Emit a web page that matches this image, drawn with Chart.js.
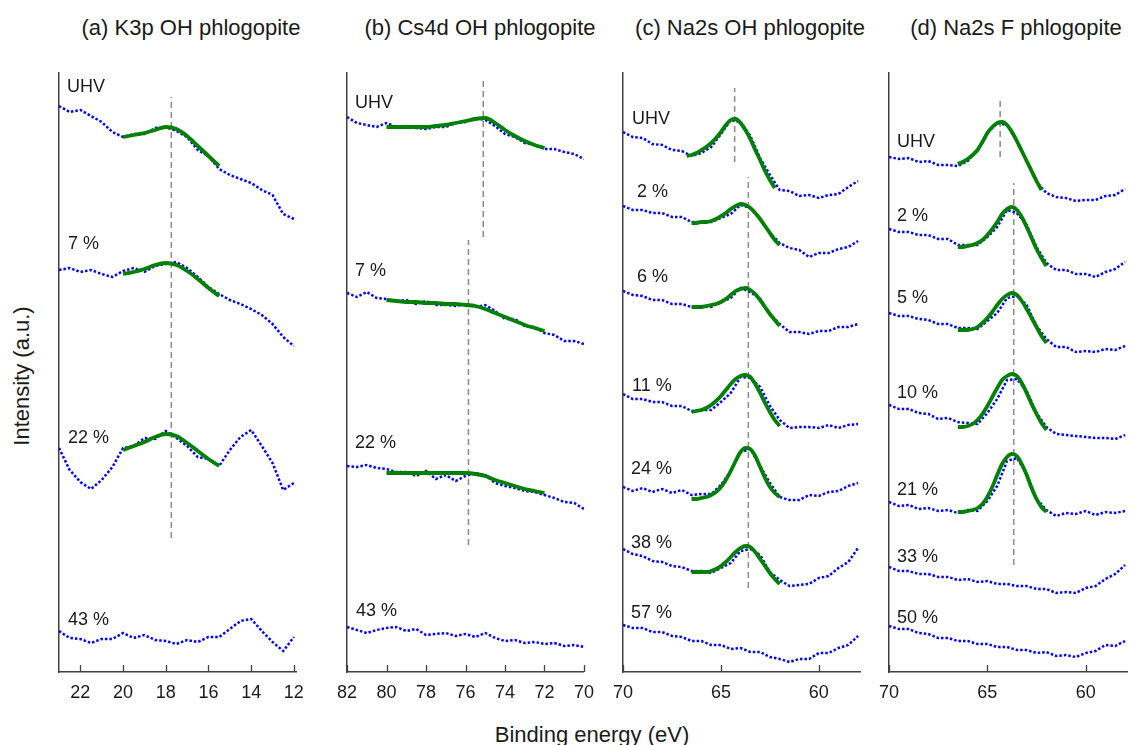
<!DOCTYPE html>
<html lang="en">
<head>
<meta charset="UTF-8">
<title>XPS spectra of phlogopite</title>
<script src="https://cdn.jsdelivr.net/npm/chart.js"></script>
<style>
  body { margin: 0; width: 1129px; height: 745px; overflow: hidden; background: #fff;
         font-family: "Liberation Sans", Arial, sans-serif; color: #1a1a1a; position: relative; }
  canvas { position: absolute; top: 72px; }
  .title { position: absolute; top: 15px; font-size: 22px; line-height: 26px; white-space: nowrap; transform: translateX(-50%); }
  #xlabel { position: absolute; left: 592px; top: 722px; font-size: 22px; line-height: 26px; white-space: nowrap; transform: translateX(-50%); }
  #ylabel { position: absolute; left: 22px; top: 376px; font-size: 22px; line-height: 26px; white-space: nowrap; transform: translate(-50%, -50%) rotate(-90deg); }
</style>
</head>
<body>
<div class="title" style="left:191px">(a) K3p OH phlogopite</div>
<div class="title" style="left:480px">(b) Cs4d OH phlogopite</div>
<div class="title" style="left:750px">(c) Na2s OH phlogopite</div>
<div class="title" style="left:1016px">(d) Na2s F phlogopite</div>
<div id="ylabel">Intensity (a.u.)</div>
<div id="xlabel">Binding energy (eV)</div>

<canvas id="panelA"></canvas>
<canvas id="panelB"></canvas>
<canvas id="panelC"></canvas>
<canvas id="panelD"></canvas>

<script>
// ---- data (binding energy in eV, intensity in a.u., spectra already offset) ----

// (a) K3p OH phlogopite
const energyA = [23, 22.5, 22, 21.5, 21, 20.5, 20, 19.5, 19, 18.5, 18, 17.5, 17, 16.5, 16, 15.5, 15, 14.5, 14, 13.5, 13, 12.5, 12];
const fitEnergyA = [20, 19.5, 19, 18.5, 18, 17.5, 17, 16.5, 16, 15.5];
const a_UHV = [566, 560, 562, 556, 550, 540, 535, 538, 538, 544, 545, 541, 535, 522, 516, 503, 497, 493, 489, 482, 477, 458, 453];
const a_UHV_fit = [535, 537, 539, 542, 545, 543, 536, 526, 516, 506];
const a_7 = [402, 404, 400, 402, 398, 395, 401, 404, 400, 406, 408, 410, 404, 395, 385, 378, 372, 368, 363, 357, 348, 335, 326];
const a_7_fit = [398, 400, 403, 407, 409, 407, 401, 393, 384, 376];
const a_22 = [224, 202, 190, 183, 192, 205, 224, 226, 234, 233, 241, 234, 226, 215, 213, 206, 222, 235, 242, 226, 209, 182, 189];
const a_22_fit = [222, 226, 230, 235, 238, 236, 229, 221, 213, 206];
const a_43 = [41, 34, 33, 29, 33, 33, 39, 34, 37, 32, 31, 28, 32, 30, 35, 35, 43, 51, 53, 41, 30, 21, 35];
const ticksA = [22, 20, 18, 16, 14, 12];
const labelsA = ['UHV', '7 %', '22 %', '43 %'];
const refEnergyA = [17.74];
const refSpanA = [[134, 575]];

// (b) Cs4d OH phlogopite
const energyB = [82, 81.5, 81, 80.5, 80, 79.5, 79, 78.5, 78, 77.5, 77, 76.5, 76, 75.5, 75, 74.5, 74, 73.5, 73, 72.5, 72, 71.5, 71, 70.5, 70];
const fitEnergyB = [80, 79.5, 79, 78.5, 78, 77.5, 77, 76.5, 76, 75.5, 75, 74.5, 74, 73.5, 73, 72.5, 72];
const b_UHV = [555, 549, 547, 545, 549, 545, 546, 544, 543, 545, 545, 549, 550, 554, 552, 546, 538, 535, 529, 527, 523, 523, 520, 518, 513];
const b_UHV_fit = [545, 545, 545, 545, 545, 546, 547, 549, 551, 553, 554, 549, 542, 536, 531, 527, 524];
const b_7 = [379, 375, 380, 374, 373, 371, 372, 368, 371, 367, 367, 366, 368, 365, 367, 361, 353, 353, 346, 345, 339, 337, 331, 331, 328];
const b_7_fit = [372, 371, 370, 370, 369, 369, 368, 368, 367, 366, 363, 359, 355, 351, 347, 344, 341];
const b_22 = [206, 205, 207, 204, 203, 200, 200, 196, 201, 193, 197, 191, 196, 199, 197, 189, 186, 184, 181, 180, 177, 174, 170, 169, 163];
const b_22_fit = [199, 199, 199, 199, 199, 199, 199, 199, 199, 198, 196, 192, 189, 186, 183, 181, 179];
const b_43 = [45, 42, 39, 42, 44, 45, 41, 43, 37, 38, 39, 36, 38, 35, 39, 34, 31, 32, 29, 30, 28, 29, 26, 27, 25];
const ticksB = [82, 80, 78, 76, 74, 72, 70];
const labelsB = ['UHV', '7 %', '22 %', '43 %'];
const refEnergyB = [75.1, 75.85];
const refSpanB = [[435, 592], [127, 432]];

// (c) Na2s OH phlogopite
const energyC = [70, 69.5, 69, 68.5, 68, 67.5, 67, 66.5, 66, 65.5, 65, 64.5, 64, 63.5, 63, 62.5, 62, 61.5, 61, 60.5, 60, 59.5, 59, 58.5, 58];
const fitEnergyC_UHV = [66.75, 66.5, 66.25, 66, 65.75, 65.5, 65.25, 65, 64.75, 64.5, 64.25, 64, 63.75, 63.5, 63.25, 63, 62.75, 62.5, 62.25];
const fitEnergyC = [66.5, 66.25, 66, 65.75, 65.5, 65.25, 65, 64.75, 64.5, 64.25, 64, 63.75, 63.5, 63.25, 63, 62.75, 62.5, 62.25, 62];
const c_UHV = [540, 535, 534, 528, 527, 522, 521, 516, 519, 525, 538, 552, 550, 536, 514, 497, 482, 481, 476, 477, 474, 477, 478, 485, 491];
const c_UHV_fit = [516, 517, 519, 522, 525, 529, 534, 540, 547, 552, 553, 549, 542, 533, 522, 512, 501, 492, 484];
const c_2 = [466, 462, 462, 459, 459, 455, 455, 450, 450, 450, 454, 458, 467, 464, 453, 439, 429, 424, 422, 415, 419, 419, 423, 425, 431];
const c_2_fit = [449, 449, 450, 450, 451, 453, 456, 459, 463, 466, 468, 467, 464, 459, 453, 446, 439, 432, 427];
const c_6 = [381, 377, 376, 372, 372, 368, 368, 365, 366, 365, 370, 374, 384, 380, 373, 358, 348, 340, 340, 338, 341, 341, 345, 345, 348];
const c_6_fit = [365, 365, 365, 366, 367, 368, 370, 373, 377, 381, 383, 384, 382, 378, 372, 365, 358, 352, 346];
const c_11 = [278, 273, 273, 270, 270, 266, 266, 261, 262, 262, 270, 279, 295, 294, 285, 266, 252, 244, 245, 245, 244, 247, 244, 247, 248];
const c_11_fit = [260, 261, 262, 264, 267, 271, 276, 282, 288, 293, 296, 297, 295, 288, 279, 269, 260, 252, 246];
const c_24 = [185, 181, 184, 180, 183, 179, 182, 177, 178, 178, 187, 201, 220, 223, 206, 189, 175, 172, 172, 177, 176, 180, 181, 186, 189];
const c_24_fit = [173, 173, 174, 175, 177, 180, 185, 192, 201, 211, 220, 224, 223, 216, 205, 194, 185, 179, 175];
const c_38 = [123, 118, 116, 111, 110, 106, 105, 101, 101, 99, 104, 109, 121, 123, 117, 100, 92, 86, 87, 88, 94, 96, 104, 110, 124];
const c_38_fit = [100, 100, 100, 100, 101, 103, 106, 110, 115, 120, 124, 126, 125, 120, 113, 106, 99, 93, 88];
const c_57 = [47, 44, 44, 40, 40, 36, 35, 31, 31, 27, 27, 23, 24, 20, 20, 15, 13, 10, 13, 13, 19, 19, 24, 27, 36];
const ticksC = [70, 65, 60];
const labelsC = ['UHV', '2 %', '6 %', '11 %', '24 %', '38 %', '57 %'];
const refEnergyC = [64.3, 63.6];
const refSpanC = [[510, 584], [84, 495]];

// (d) Na2s F phlogopite
const energyD = [70, 69.5, 69, 68.5, 68, 67.5, 67, 66.5, 66, 65.5, 65, 64.5, 64, 63.5, 63, 62.5, 62, 61.5, 61, 60.5, 60, 59.5, 59, 58.5, 58];
const fitEnergyD_UHV = [66.5, 66.25, 66, 65.75, 65.5, 65.25, 65, 64.75, 64.5, 64.25, 64, 63.75, 63.5, 63.25, 63, 62.75, 62.5, 62.25];
const fitEnergyD = [66.5, 66.25, 66, 65.75, 65.5, 65.25, 65, 64.75, 64.5, 64.25, 64, 63.75, 63.5, 63.25, 63, 62.75, 62.5, 62.25, 62];
const d_UHV = [515, 513, 514, 510, 511, 507, 507, 506, 511, 522, 539, 549, 547, 531, 511, 490, 479, 475, 474, 471, 472, 472, 476, 477, 483];
const d_UHV_fit = [508, 510, 513, 517, 522, 530, 539, 545, 549, 550, 547, 540, 531, 521, 511, 501, 491, 482];
const d_2 = [443, 440, 440, 437, 437, 433, 433, 427, 427, 427, 435, 445, 462, 459, 447, 425, 409, 402, 402, 398, 398, 395, 400, 403, 410];
const d_2_fit = [425, 425, 426, 427, 429, 432, 437, 443, 450, 458, 463, 465, 462, 455, 445, 434, 423, 414, 406];
const d_5 = [359, 356, 356, 353, 352, 348, 348, 344, 344, 343, 351, 359, 374, 376, 367, 346, 333, 325, 325, 320, 321, 320, 323, 322, 326];
const d_5_fit = [342, 342, 342, 343, 345, 349, 354, 360, 367, 373, 377, 379, 377, 371, 363, 354, 345, 336, 329];
const d_10 = [267, 263, 263, 259, 258, 253, 254, 250, 249, 248, 259, 273, 292, 293, 281, 259, 245, 238, 237, 236, 235, 234, 234, 233, 237];
const d_10_fit = [245, 245, 246, 248, 252, 258, 266, 275, 284, 292, 296, 298, 296, 289, 279, 268, 258, 249, 242];
const d_21 = [170, 166, 167, 163, 164, 161, 162, 159, 162, 161, 171, 186, 211, 214, 198, 173, 162, 156, 159, 158, 161, 157, 160, 159, 161];
const d_21_fit = [160, 160, 161, 162, 164, 168, 175, 185, 197, 208, 215, 218, 216, 208, 197, 184, 173, 165, 160];
const d_33 = [105, 101, 101, 98, 98, 95, 95, 92, 93, 90, 91, 88, 88, 86, 86, 83, 83, 79, 80, 79, 84, 86, 93, 98, 107];
const d_50 = [46, 43, 43, 39, 38, 34, 34, 31, 31, 28, 28, 25, 25, 22, 22, 19, 20, 16, 17, 15, 19, 21, 27, 26, 31];
const ticksD = [70, 65, 60];
const labelsD = ['UHV', '2 %', '5 %', '10 %', '21 %', '33 %', '50 %'];
const refEnergyD = [64.35, 63.66];
const refSpanD = [[515, 575], [107, 489]];

// ---- layout of the four panels (pixels) ----
const PAD = 20;
const panels = [
  { id: 'panelA', left: 59, width: 237, min: 11.9, max: 23, energy: energyA, ticks: ticksA,
    spectra: [a_UHV, a_7, a_22, a_43],
    fits: [[fitEnergyA, a_UHV_fit], [fitEnergyA, a_7_fit], [fitEnergyA, a_22_fit]],
    refE: refEnergyA, refSpan: refSpanA,
    labels: labelsA, labelX: [8, 9, 9, 9], labelY: [585, 428, 234, 52] },
  { id: 'panelB', left: 346.5, width: 236.5, min: 70, max: 82, energy: energyB, ticks: ticksB,
    spectra: [b_UHV, b_7, b_22, b_43],
    fits: [[fitEnergyB, b_UHV_fit], [fitEnergyB, b_7_fit], [fitEnergyB, b_22_fit]],
    refE: refEnergyB, refSpan: refSpanB,
    labels: labelsB, labelX: [8, 8, 8, 9], labelY: [569, 401, 229, 61] },
  { id: 'panelC', left: 622.5, width: 237, min: 57.9, max: 70, energy: energyC, ticks: ticksC,
    spectra: [c_UHV, c_2, c_6, c_11, c_24, c_38, c_57],
    fits: [[fitEnergyC_UHV, c_UHV_fit], [fitEnergyC, c_2_fit], [fitEnergyC, c_6_fit], [fitEnergyC, c_11_fit],
           [fitEnergyC, c_24_fit], [fitEnergyC, c_38_fit]],
    refE: refEnergyC, refSpan: refSpanC,
    labels: labelsC, labelX: [9, 14, 14, 9, 8, 8, 8], labelY: [553, 480, 395, 286, 203, 129, 59] },
  { id: 'panelD', left: 889, width: 237.5, min: 57.9, max: 70, energy: energyD, ticks: ticksD,
    spectra: [d_UHV, d_2, d_5, d_10, d_21, d_33, d_50],
    fits: [[fitEnergyD_UHV, d_UHV_fit], [fitEnergyD, d_2_fit], [fitEnergyD, d_5_fit], [fitEnergyD, d_10_fit],
           [fitEnergyD, d_21_fit]],
    refE: refEnergyD, refSpan: refSpanD,
    labels: labelsD, labelX: [8, 8, 8, 8, 8, 8, 8], labelY: [530, 456, 374, 279, 182, 115, 54] }
];

const FONT = '"Liberation Sans", Arial, sans-serif';

function series(xs, ys) {
  return xs.map((x, i) => ({ x: x, y: ys[i] }));
}

// inward tick marks on the energy axis and the spectrum labels
const panelDecor = {
  id: 'panelDecor',
  afterDraw(chart, args, opts) {
    const { ctx, chartArea, scales: { x, y } } = chart;
    ctx.save();
    ctx.strokeStyle = '#404040';
    ctx.lineWidth = 1.3;
    x.ticks.forEach(t => {
      const px = Math.round(x.getPixelForValue(t.value)) + 0.5;
      ctx.beginPath();
      ctx.moveTo(px, chartArea.bottom);
      ctx.lineTo(px, chartArea.bottom - 7);
      ctx.stroke();
    });
    ctx.font = '18px ' + FONT;
    ctx.fillStyle = '#1a1a1a';
    ctx.textBaseline = 'middle';
    ctx.textAlign = 'left';
    opts.labels.forEach((txt, i) => {
      ctx.fillText(txt, chartArea.left + opts.labelX[i], y.getPixelForValue(opts.labelY[i]));
    });
    ctx.restore();
  }
};

panels.forEach(p => {
  const canvas = document.getElementById(p.id);
  canvas.width = Math.round(p.width + 2 * PAD);
  canvas.height = 640;
  canvas.style.left = (p.left - PAD) + 'px';

  const datasets = [];
  p.fits.forEach(f => datasets.push({
    data: series(f[0], f[1]), borderColor: '#008000', borderWidth: 3.8,
    pointRadius: 0, cubicInterpolationMode: 'monotone', order: 0
  }));
  p.spectra.forEach(s => datasets.push({
    data: series(p.energy, s), borderColor: '#0000ff', borderWidth: 2.5,
    borderDash: [2.5, 2], pointRadius: 0, tension: 0, order: 1
  }));
  p.refE.forEach((e, i) => datasets.push({
    data: [{ x: e, y: p.refSpan[i][0] }, { x: e, y: p.refSpan[i][1] }],
    borderColor: '#8a8a8a', borderWidth: 1.5, borderDash: [6, 4], pointRadius: 0, order: 2
  }));

  new Chart(canvas, {
    type: 'line',
    data: { datasets: datasets },
    plugins: [panelDecor],
    options: {
      responsive: false,
      animation: false,
      layout: { padding: { left: PAD, right: PAD, top: 0, bottom: 0 } },
      plugins: {
        legend: { display: false },
        tooltip: { enabled: false },
        panelDecor: { labels: p.labels, labelX: p.labelX, labelY: p.labelY }
      },
      scales: {
        x: {
          type: 'linear', reverse: true, min: p.min, max: p.max,
          afterFit: s => { s.height = 40; },
          afterBuildTicks: s => { s.ticks = p.ticks.map(v => ({ value: v })); },
          grid: { display: false, drawTicks: false },
          border: { display: true, color: '#404040', width: 1.5 },
          ticks: { color: '#1a1a1a', font: { family: FONT, size: 18 }, padding: 10, maxRotation: 0, autoSkip: false }
        },
        y: {
          min: 0, max: 600,
          afterFit: s => { s.width = 0; },
          grid: { display: false, drawTicks: false },
          border: { display: true, color: '#404040', width: 1.5 },
          ticks: { display: false }
        }
      }
    }
  });
});
</script>
</body>
</html>
